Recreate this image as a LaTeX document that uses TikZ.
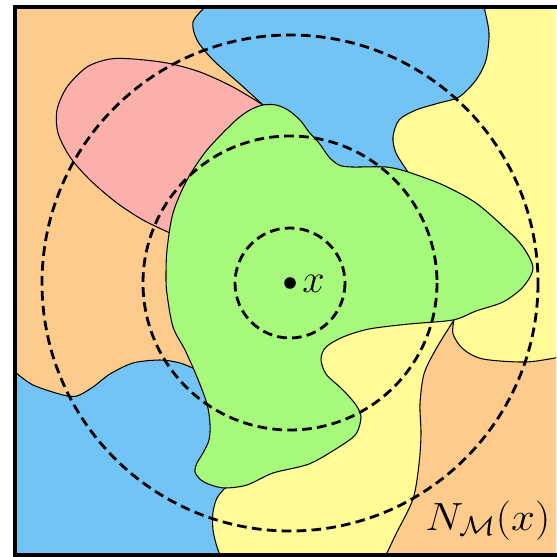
\documentclass[tikz,border=0pt]{standalone}
\usepackage{amsmath,amssymb}
\usepackage{graphicx}
\usepackage{xcolor}
\usepackage{tikz}
\definecolor{naranja}{RGB}{253,204,141}
\definecolor{azul}{RGB}{114,196,247}
\definecolor{rosa}{RGB}{251,176,171}
\definecolor{verde}{RGB}{167,249,124}
\definecolor{amarillo}{RGB}{255,251,150}

\begin{document}
\begin{tikzpicture}[x=0.02cm,y=-0.02cm,
		region/.style={draw=black,line width=0.6pt},
		bola/.style={draw=black,line width=1.6pt,dash pattern=on 5.5pt off 3pt},
		etiqueta/.style={inner sep=0pt,font=\huge}]
	\useasboundingbox (0,0) rectangle (556,557);
	\begin{scope}
		\clip (15,7) rectangle (556,555);
		\fill[naranja] (15,7) rectangle (556,555);
		% zonas azules
		\filldraw[region,fill=azul] (212,0) -- plot[smooth] coordinates {(205,7) (193,22) (197,40) (213,60) (240,84) (263,105)}
			-- (290,150) -- (400,200) -- (440,195) -- (452,170) -- (520,150) -- (545,0) -- cycle;
		\filldraw[region,fill=azul] (10,372) -- plot[smooth] coordinates {(15,372) (33,385) (63,395) (77,396) (93,387) (110,374) (133,363) (160,360) (180,363) (197,370)}
			-- (240,380) -- (240,470) -- (260,520) -- (260,560) -- (10,560) -- cycle;
		% zona amarilla
		\filldraw[region,fill=amarillo] plot[smooth] coordinates {(484,7) (489,33) (486,60) (476,80) (459,97) (439,103) (416,110) (399,120) (393,137) (396,153) (408,172)}
			-- (380,230) -- (300,350) -- (250,450) -- plot[smooth] coordinates {(225,488) (217,498) (213,512) (213,530) (217,547) (222,560)}
			-- (560,560) -- (560,0) -- (484,0) -- cycle;
		% zona naranja abajo
		\filldraw[region,fill=naranja] plot[smooth] coordinates {(454,320) (453,334) (463,349) (483,359) (526,362) (560,357)}
			-- (560,560) -- (380,560) -- plot[smooth] coordinates {(386,555) (396,534) (413,499) (419,464) (421,434) (420,404) (424,374) (436,349) (454,320)} -- cycle;
		% zona rosa
		\filldraw[region,fill=rosa] plot[smooth] coordinates {(263,105) (233,87) (200,72) (167,63) (133,59) (110,59) (87,67) (67,87) (57,110) (58,133) (70,157) (90,180) (117,203) (143,220) (170,233)}
			-- (220,200) -- cycle;
		% zona verde
		\filldraw[region,fill=verde] plot[smooth cycle] coordinates {(263,105) (276,105) (288,110) (300,120) (309,132) (319,143) (329,157) (339,165) (352,167) (386,167) (408,172)
			(443,185) (476,203) (507,230) (523,247) (533,268) (523,287) (503,302) (476,311) (453,320) (409,324) (369,329) (343,337) (326,347) (321,359) (326,374)
			(343,390) (356,405) (361,417) (356,434) (339,447) (309,464) (273,473) (247,485) (225,488) (211,485) (201,480) (195,472) (197,463) (203,453) (209,440)
			(210,424) (207,404) (197,377) (185,350) (173,327) (167,294) (166,277) (167,250) (173,213) (187,180) (207,150) (235,121) (250,110)};
	\end{scope}
	% bolas
	\coordinate (centro) at (290,283);
	\draw[bola] (centro) circle[radius=55];
	\draw[bola] (centro) circle[radius=147];
	\draw[bola] (centro) circle[radius=248];
	\node[circle,fill=black,inner sep=0pt,minimum size=6.6pt] (punto) at (centro) {};
	\node[etiqueta,anchor=west] (etiqx) at (302,284) {\scalebox{1.1}{$x$}};
	\node[etiqueta,anchor=base west] (vecindad) at (425,530) {\scalebox{1.18}[1.08]{$N_{\mathcal{M}}(x)$}};
	% marco
	\draw[line width=2.3pt] (560,7) -- (15,7) -- (15,555) -- (560,555);
\end{tikzpicture}
\end{document}
